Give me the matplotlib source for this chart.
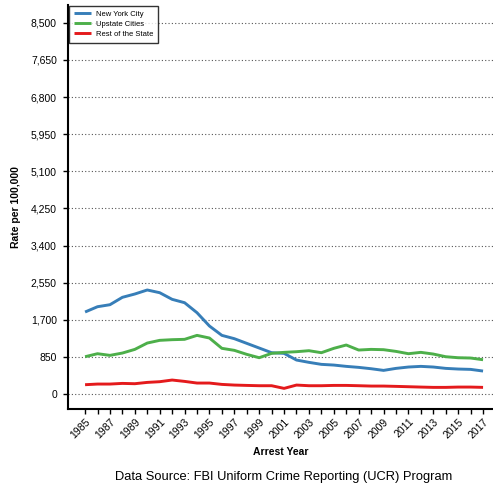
import matplotlib
matplotlib.use("Agg")
import matplotlib.pyplot as plt

plt.rcParams['font.family'] = ['Liberation Sans', 'DejaVu Sans']

years = list(range(1985, 2018))
nyc = [1879, 2000, 2046, 2215, 2291, 2383, 2321, 2169, 2092, 1863,
       1558, 1344, 1268, 1161, 1054, 947, 932, 779, 726, 680,
       664, 634, 611, 580, 542, 588, 619, 634, 619, 588,
       573, 565, 527]
upstate = [855, 924, 886, 939, 1023, 1168, 1230, 1245, 1253, 1344,
           1283, 1047, 1001, 909, 832, 932, 955, 970, 993, 947,
           1047, 1123, 1008, 1023, 1016, 977, 924, 955, 916, 855,
           832, 825, 786]
rest = [214, 229, 229, 244, 237, 267, 283, 321, 290, 252,
        252, 221, 206, 198, 191, 191, 130, 206, 191, 191,
        198, 198, 191, 183, 183, 176, 168, 160, 153, 153,
        160, 160, 153]
series_names = ["New York City", "Upstate Cities", "Rest of the State"]
colors = ["#377EB8", "#4DAF4A", "#E41A1C"]
yticks = [0, 850, 1700, 2550, 3400, 4250, 5100, 5950, 6800, 7650, 8500]

fig = plt.figure(figsize=(4.93, 4.87), dpi=100)
ax = fig.add_axes([0.138, 0.160, 0.862, 0.830])

for vals, name, c in zip([nyc, upstate, rest], series_names, colors):
    ax.plot(years, vals, color=c, lw=2.1, label=name, solid_capstyle='butt')

ax.set_xlim(1983.63, 2017.8)
ax.set_ylim(-344, 8912)
ax.set_yticks(yticks)
ax.set_yticklabels([f"{v:,}" for v in yticks], fontsize=7.5)
ax.set_xticks(years)
ax.set_xticklabels([str(y) if (y - 1985) % 2 == 0 else "" for y in years],
                   rotation=45, ha='right', rotation_mode='anchor', fontsize=7.5)
ax.tick_params(axis='both', direction='out', length=3.5, width=1.0, color='black')
ax.tick_params(axis='x', pad=2)
ax.tick_params(axis='y', pad=4.5)
ax.grid(axis='y', linestyle=(0, (1, 2)), color='#555555', lw=0.8)
ax.set_axisbelow(True)
for s in ['top', 'right']:
    ax.spines[s].set_visible(False)
for s in ['left', 'bottom']:
    ax.spines[s].set_linewidth(1.5)

ax.set_xlabel("Arrest Year", fontsize=7.5, fontweight='bold', labelpad=5)
ax.set_ylabel("Rate per 100,000", fontsize=7.5, fontweight='bold', labelpad=7)

leg = ax.legend(loc='upper left', fontsize=5.5, frameon=True, fancybox=False,
                edgecolor='black', borderaxespad=0.15, handlelength=2.3,
                labelspacing=0.35, borderpad=0.6, handletextpad=0.6)
leg.get_frame().set_linewidth(1.0)

fig.text(0.576, 1 - 477 / 487, "Data Source: FBI Uniform Crime Reporting (UCR) Program",
         ha='center', va='center', fontsize=9.3)

fig.savefig("out.png", dpi=100)
